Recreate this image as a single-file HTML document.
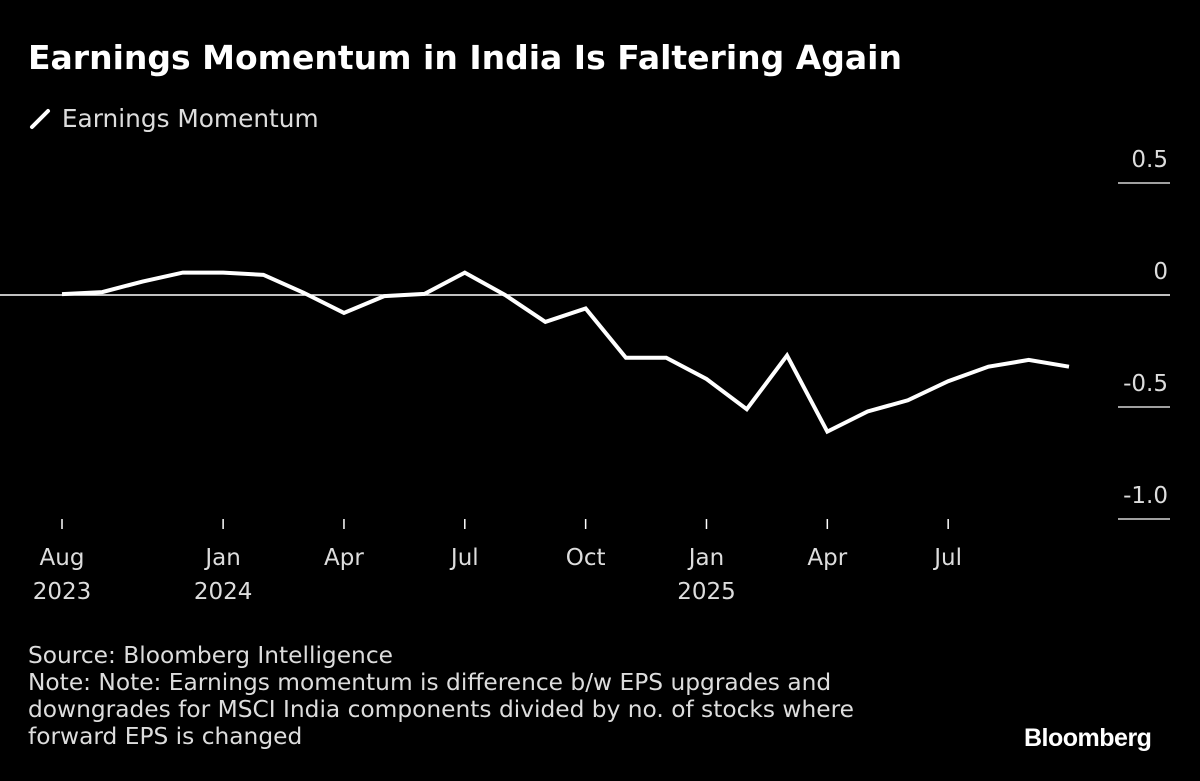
<!DOCTYPE html>
<html><head><meta charset="utf-8"><style>
html,body{margin:0;padding:0;background:#000;}
body{width:1200px;height:781px;overflow:hidden;font-family:"DejaVu Sans",sans-serif;color:#fff;position:relative;}
.t{position:absolute;white-space:nowrap;}
</style></head><body>
<div class="t" style="left:28px;top:38px;font-size:33px;font-weight:bold;">Earnings Momentum in India Is Faltering Again</div>
<div class="t" style="left:28px;top:104px;font-size:24.8px;color:#ddd;">
<svg width="26" height="26" style="vertical-align:-4px"><line x1="4" y1="22" x2="20" y2="6" stroke="#fff" stroke-width="4" stroke-linecap="round"/></svg> Earnings Momentum</div>
<svg id="chart" width="1200" height="640" style="position:absolute;left:0;top:0"></svg>
<div class="t" style="left:28px;top:642px;font-size:23.3px;line-height:27px;color:#ddd;">Source: Bloomberg Intelligence<br>Note: Note: Earnings momentum is difference b/w EPS upgrades and<br>downgrades for MSCI India components divided by no. of stocks where<br>forward EPS is changed</div>
<div class="t" style="left:1024px;top:724px;font-size:25px;font-weight:bold;letter-spacing:-0.5px;font-family:'Liberation Sans',sans-serif;">Bloomberg</div>
<script>
const values=[0.004,0.013,0.06,0.10,0.10,0.09,0.01,-0.08,-0.005,0.005,0.10,0,-0.12,-0.06,-0.28,-0.28,-0.375,-0.51,-0.27,-0.61,-0.52,-0.47,-0.385,-0.32,-0.29,-0.32];
const yTicks=[0.5,0,-0.5,-1.0];
const yTickLabels=["0.5","0","-0.5","-1.0"];
const xTickIdx=[0,4,7,10,13,16,19,22];
const xTickMonth=["Aug","Jan","Apr","Jul","Oct","Jan","Apr","Jul"];
const xTickYear=["2023","2024","","","","2025","",""];
const NS="http://www.w3.org/2000/svg";
const svg=document.getElementById('chart');
const x=i=>62+i*40.28;
const y=v=>295-v*224;
function mk(tag,attrs){const e=document.createElementNS(NS,tag);for(const k in attrs)e.setAttribute(k,attrs[k]);svg.appendChild(e);return e;}
yTicks.forEach((v,k)=>{
  const l=mk('line',{x1:v===0?0:1118,x2:1170,y1:y(v),y2:y(v),stroke:'#fff','stroke-width':v===0?1.5:1.2});
  
  
  const t=mk('text',{x:1168,y:y(v)-16,'text-anchor':'end','font-size':23,fill:'#ddd','font-family':'DejaVu Sans, sans-serif'});
  t.textContent=yTickLabels[k];
  
  
});
xTickIdx.forEach((i,k)=>{
  const l=mk('line',{x1:x(i),x2:x(i),y1:519,y2:529,stroke:'#fff','stroke-width':1.5});
  
  
  const t=mk('text',{x:x(i),y:565,'text-anchor':'middle','font-size':23,fill:'#ddd','font-family':'DejaVu Sans, sans-serif'});
  t.textContent=xTickMonth[k];
  
  
  if(xTickYear[k]){
    const t2=mk('text',{x:x(i),y:599,'text-anchor':'middle','font-size':23,fill:'#ddd','font-family':'DejaVu Sans, sans-serif'});
    t2.textContent=xTickYear[k];
    
    
  }
});
const p=mk('polyline',{points:values.map((v,i)=>x(i)+','+y(v)).join(' '),fill:'none',stroke:'#fff','stroke-width':4,'stroke-linejoin':'miter'});


</script>
</body></html>
